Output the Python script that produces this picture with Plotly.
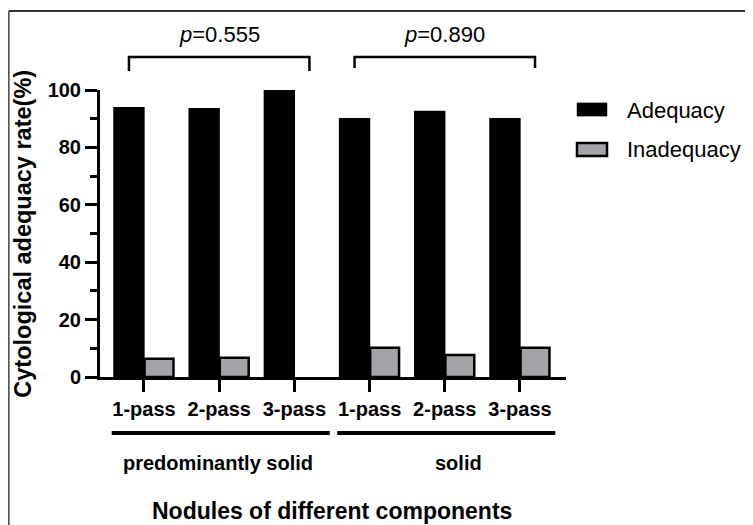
import plotly.graph_objects as go

# ---- data ----
passes = ["1-pass", "2-pass", "3-pass", "1-pass", "2-pass", "3-pass"]
groups = ["predominantly solid", "solid"]
adequacy = [93.6, 93.3, 100.0, 89.8, 92.3, 89.8]
inadequacy = [6.4, 6.7, 0.0, 10.2, 7.7, 10.2]
p_values = ["0.555", "0.890"]
series_names = ["Adequacy", "Inadequacy"]
y_ticks = [0, 20, 40, 60, 80, 100]

FONT = "Arial, Liberation Sans, sans-serif"
BLACK = "#000000"
GRAY = "#a3a3a8"

x = list(range(len(passes)))

fig = go.Figure()
fig.add_trace(go.Bar(x=x, y=adequacy, name=series_names[0],
                     marker=dict(color=BLACK, line=dict(color=BLACK, width=2.5)),
                     showlegend=False))
fig.add_trace(go.Bar(x=x, y=inadequacy, name=series_names[1],
                     marker=dict(color=GRAY,
                                 line=dict(color=BLACK,
                                           width=[2.5 if v > 0 else 0 for v in inadequacy])),
                     showlegend=False))

shapes = []
annotations = []

# significance brackets
for gi, (start, pv) in enumerate(zip([0, 3], p_values)):
    x0 = start - 0.2
    x1 = start + 2 + 0.2
    leg = 1.066 if gi == 0 else 1.077
    shapes.append(dict(type="path", xref="x", yref="paper",
                       path=f"M {x0},{leg} L {x0},1.115 L {x1},1.115 L {x1},{leg}",
                       line=dict(color=BLACK, width=2.5)))
    annotations.append(dict(x=start + 1, y=1.192, xref="x", yref="paper",
                            text=f"<i>p</i>={pv}", showarrow=False,
                            font=dict(family=FONT, size=22, color=BLACK),
                            xanchor="center", yanchor="middle"))

# group underline and labels
for gi, (start, gname) in enumerate(zip([0, 3], groups)):
    shapes.append(dict(type="line", xref="x", yref="paper",
                       x0=start - 0.43, x1=start + 2.47, y0=-0.195, y1=-0.195,
                       line=dict(color=BLACK, width=4)))
    annotations.append(dict(x=start + 1 + (0.18 if gi == 1 else -0.02), y=-0.30,
                            xref="x", yref="paper", text=f"<b>{gname}</b>", showarrow=False,
                            font=dict(family=FONT, size=20, color=BLACK),
                            xanchor="center", yanchor="middle"))

# axis titles
annotations.append(dict(x=0.498, y=-0.467, xref="paper", yref="paper",
                        text="<b>Nodules of different components</b>", showarrow=False,
                        font=dict(family=FONT, size=23, color=BLACK),
                        xanchor="center", yanchor="middle"))
annotations.append(dict(x=-0.167, y=0.5, xref="paper", yref="paper",
                        text="<b>Cytological adequacy rate(%)</b>", showarrow=False,
                        textangle=-90,
                        font=dict(family=FONT, size=23.5, color=BLACK),
                        xanchor="center", yanchor="middle"))

# custom legend
legend_rows = [(0.955, 0.909, 0.930, BLACK, 0), (0.815, 0.770, 0.794, GRAY, 2.5)]
for name, (ytop, ybot, ytxt, col, lw) in zip(series_names, legend_rows):
    shapes.append(dict(type="rect", xref="paper", yref="paper",
                       x0=1.0236, x1=1.088, y0=ybot, y1=ytop,
                       fillcolor=col, line=dict(color=BLACK, width=lw if lw else 0.5)))
    annotations.append(dict(x=1.1266, y=ytxt, xref="paper", yref="paper",
                            text=name, showarrow=False,
                            font=dict(family=FONT, size=22, color=BLACK),
                            xanchor="left", yanchor="middle"))

# outer frame (top and left edges)
shapes.append(dict(type="line", xref="paper", yref="paper",
                   x0=-0.196, x1=1.5, y0=1.275, y1=1.275,
                   line=dict(color="#333333", width=2)))
shapes.append(dict(type="line", xref="paper", yref="paper",
                   x0=-0.196, x1=-0.196, y0=1.275, y1=-0.6,
                   line=dict(color="#555555", width=2)))

# page has an 8px body margin: figure is shrunk so the plot area lands in place
fig.update_layout(
    width=745, height=517,
    margin=dict(l=92, r=187, t=82, b=148),
    paper_bgcolor="white", plot_bgcolor="white",
    barmode="group", bargap=0.2, bargroupgap=0.04,
    font=dict(family=FONT, color=BLACK),
    shapes=shapes, annotations=annotations,
    showlegend=False,
)
fig.update_xaxes(
    range=[-0.585, 5.612], tickvals=x, ticktext=[f"<b>{p}</b>" for p in passes],
    showline=True, linecolor=BLACK, linewidth=3,
    ticks="outside", ticklen=12, tickwidth=3, tickcolor=BLACK,
    showgrid=False, zeroline=False,
    tickfont=dict(family=FONT, size=20, color=BLACK),
)
fig.update_yaxes(
    range=[0, 100], tickvals=y_ticks, ticktext=[f"<b>{t}</b>" for t in y_ticks],
    showline=True, linecolor=BLACK, linewidth=3,
    ticks="outside", ticklen=12, tickwidth=3, tickcolor=BLACK,
    minor=dict(dtick=10, ticks="outside", ticklen=7, tickwidth=3, tickcolor=BLACK, showgrid=False),
    showgrid=False, zeroline=False,
    tickfont=dict(family=FONT, size=20, color=BLACK),
)

fig.write_html("out.html")
